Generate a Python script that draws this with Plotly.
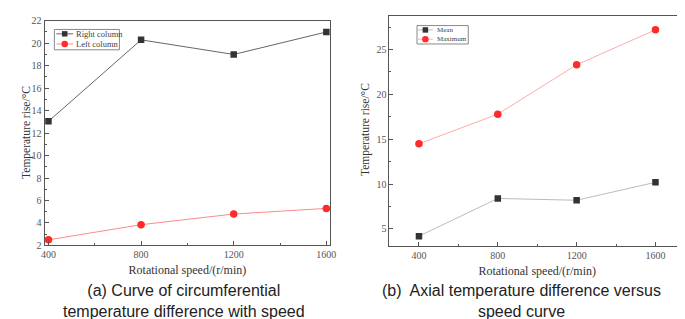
import plotly.graph_objects as go

speed = [400, 800, 1200, 1600]
right_column = [13.05, 20.3, 19.0, 21.0]
left_column = [2.5, 3.85, 4.8, 5.3]
mean_axial = [4.2, 8.4, 8.2, 10.2]
max_axial = [14.5, 17.8, 23.3, 27.2]

W, H = 685, 319
SERIF = "Liberation Serif, Times New Roman, serif"
SANS = "Liberation Sans, Arial, sans-serif"

series = [
    dict(name="Right column", y=right_column, line="#666666", mcolor="#333333", symbol="square",
         ax="x", ay="y"),
    dict(name="Left column", y=left_column, line="#ff8a8a", mcolor="#ff2a2a", symbol="circle",
         ax="x", ay="y"),
    dict(name="Mean", y=mean_axial, line="#bbbbbb", mcolor="#333333", symbol="square",
         ax="x2", ay="y2"),
    dict(name="Maximum", y=max_axial, line="#ffaaaa", mcolor="#ff2a2a", symbol="circle",
         ax="x2", ay="y2"),
]

fig = go.Figure()
for s in series:
    fig.add_trace(go.Scatter(x=speed, y=s["y"], name=s["name"], mode="lines+markers",
                             line=dict(color=s["line"], width=1),
                             marker=dict(symbol=s["symbol"], size=6.5 if s["symbol"] == "square" else 7.5,
                                         color=s["mcolor"]),
                             xaxis=s["ax"], yaxis=s["ay"], showlegend=False))


def px_x(p):
    return p / W


def px_y(p):
    return 1 - p / H


axis_common = dict(showline=True, linecolor="#555555", linewidth=1, mirror=True,
                   ticks="inside", ticklen=4, tickcolor="#555555", showgrid=False,
                   zeroline=False, tickfont=dict(family=SERIF, size=10, color="#555555"))
minor_x = dict(ticks="inside", ticklen=2, tickcolor="#555555", tick0=400, dtick=200)

fig.update_layout(
    width=W, height=H, margin=dict(l=0, r=0, t=0, b=0),
    paper_bgcolor="white", plot_bgcolor="white", showlegend=False,
    xaxis=dict(domain=[px_x(33), px_x(323)], range=[383, 1617], anchor="y",
               tickvals=speed, minor=minor_x,
               title=dict(text="Rotational speed/(r/min)", font=dict(family=SERIF, size=12, color="#333333"),
                          standoff=6),
               **axis_common),
    yaxis=dict(domain=[px_y(240), px_y(8)], range=[2, 22], anchor="x", dtick=2, tick0=2,
               minor=dict(ticks="inside", ticklen=2, tickcolor="#555555", dtick=1),
               **axis_common),
    xaxis2=dict(domain=[px_x(383), px_x(683)], range=[250, 1750], anchor="y2",
                tickvals=speed, minor=minor_x,
                title=dict(text="Rotational speed/(r/min)", font=dict(family=SERIF, size=12, color="#333333"),
                           standoff=6),
                **axis_common),
    yaxis2=dict(domain=[px_y(241), px_y(3)], range=[3.05, 28.75], anchor="x2", dtick=5, tick0=5,
                minor=dict(ticks="inside", ticklen=2, tickcolor="#555555", dtick=2.5),
                **axis_common),
)

annotations = [
    dict(text="Temperature rise/°C", x=px_x(14), y=px_y(123), textangle=-90,
         font=dict(family=SERIF, size=11.5, color="#333333")),
    dict(text="Temperature rise/°C", x=px_x(358), y=px_y(120), textangle=-90,
         font=dict(family=SERIF, size=11.5, color="#333333")),
    dict(text="(a) Curve of circumferential<br>temperature difference with speed", x=px_x(175), y=px_y(297.5),
         font=dict(family=SANS, size=16, color="#222222"), borderpad=0),
    dict(text="(b)  Axial temperature difference versus<br>speed curve", x=px_x(517), y=px_y(297.5),
         font=dict(family=SANS, size=16, color="#222222"), borderpad=0),
]
for a in annotations:
    a.update(xref="paper", yref="paper", showarrow=False, xanchor="center", yanchor="middle")

# hand-drawn compact legends (box, sample line, sample marker, label)
shapes = []
legends = [
    dict(box=(43, 17, 109, 38), rows=[21.5, 32], x0=45, x1=62, tx=63, fs=8.5, items=series[:2]),
    dict(box=(411, 13, 463, 32), rows=[17.5, 27], x0=412, x1=427, tx=429, fs=7, items=series[2:]),
]
for lg in legends:
    bx0, by0, bx1, by1 = lg["box"]
    shapes.append(dict(type="rect", xref="paper", yref="paper",
                       x0=px_x(bx0), x1=px_x(bx1), y0=px_y(by1), y1=px_y(by0),
                       line=dict(color="#888888", width=1), fillcolor="white", layer="above"))
    for ry, s in zip(lg["rows"], lg["items"]):
        shapes.append(dict(type="line", xref="paper", yref="paper",
                           x0=px_x(lg["x0"]), x1=px_x(lg["x1"]), y0=px_y(ry), y1=px_y(ry),
                           line=dict(color=s["line"], width=1), layer="above"))
        cx = (lg["x0"] + lg["x1"]) / 2
        r = 2.8 if s["symbol"] == "square" else 3.3
        shapes.append(dict(type="rect" if s["symbol"] == "square" else "circle",
                           xref="paper", yref="paper",
                           x0=px_x(cx - r), x1=px_x(cx + r), y0=px_y(ry + r), y1=px_y(ry - r),
                           line=dict(color=s["mcolor"], width=0), fillcolor=s["mcolor"], layer="above"))
        annotations.append(dict(text=s["name"], x=px_x(lg["tx"]), y=px_y(ry), xref="paper", yref="paper",
                                showarrow=False, xanchor="left", yanchor="middle",
                                font=dict(family=SERIF, size=lg["fs"], color="#444444")))

fig.update_layout(annotations=annotations, shapes=shapes)

fig.write_html("out.html")
